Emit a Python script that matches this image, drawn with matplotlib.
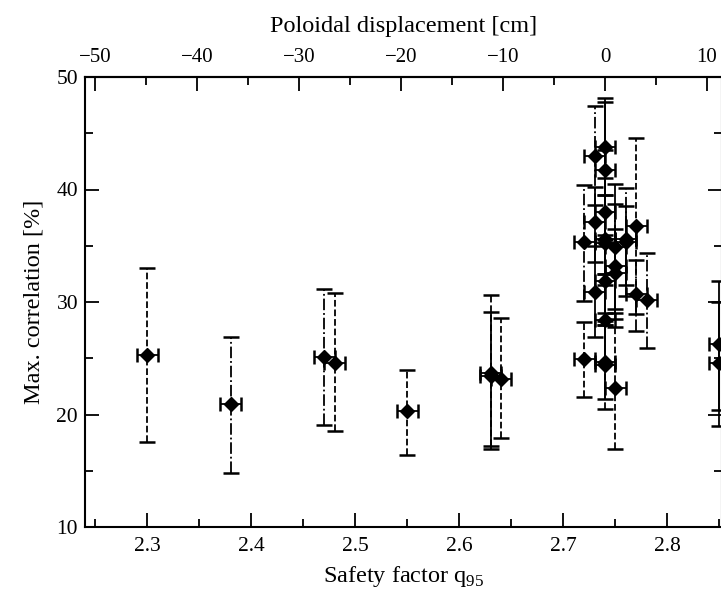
import matplotlib
matplotlib.use("Agg")
import matplotlib.pyplot as plt
from matplotlib.ticker import MultipleLocator, FixedLocator

plt.rcParams['font.family'] = ['Liberation Serif', 'DejaVu Serif']

# safety factor q95 of each measurement
q95 = [2.30, 2.38, 2.47, 2.48, 2.55, 2.63, 2.63, 2.64,
       2.72, 2.72, 2.73, 2.73, 2.73,
       2.74, 2.74, 2.74, 2.74, 2.74, 2.74, 2.74, 2.74, 2.74,
       2.75, 2.75, 2.75, 2.75, 2.76, 2.76, 2.77, 2.77, 2.78,
       2.85, 2.85]
# max. correlation [%]
corr = [25.3, 20.9, 25.1, 24.6, 20.3, 23.7, 23.4, 23.2,
        24.9, 35.3, 43.0, 37.1, 30.9,
        43.8, 41.7, 38.0, 35.6, 35.2, 31.9, 28.4, 24.7, 24.4,
        34.9, 33.2, 32.6, 22.4, 35.6, 35.3, 36.8, 30.7, 30.2,
        26.3, 24.6]
# lower / upper ends of the error bars
corr_lo = [17.6, 14.8, 19.1, 18.5, 16.4, 17.2, 16.9, 17.9,
           21.6, 30.1, 38.6, 33.6, 26.9,
           39.5, 35.5, 32.5, 31.5, 29.0, 28.0, 24.5, 21.4, 20.5,
           29.4, 29.0, 28.5, 16.9, 31.5, 30.5, 28.9, 27.4, 25.9,
           20.4, 19.0]
corr_hi = [33.0, 26.9, 31.2, 30.8, 24.0, 30.6, 29.1, 28.6,
           28.2, 40.4, 47.4, 40.2, 35.0,
           48.1, 47.8, 43.5, 39.5, 41.0, 36.0, 32.5, 28.3, 28.0,
           40.5, 38.7, 36.5, 27.8, 40.1, 38.5, 44.6, 33.7, 34.4,
           31.9, 30.0]
bar_style = ['--', '-.', '-.', '--', '--', '--', '-', '--',
             '--', '-.', '-.', '-', '-',
             '-', '-', '-', '--', '-', '-', '-', '-', '--',
             '-', '-.', '-', '--', '-.', '-', '--', '-.', '-.',
             '-', '-']
q_err = 0.01
top_ticks = [-50, -40, -30, -20, -10, 0, 10]


def q_to_cm(q):
    return (q - 2.74) / 0.0098


def cm_to_q(cm):
    return 2.74 + cm * 0.0098


fig = plt.figure(figsize=(7.21, 5.92), dpi=100)
ax = fig.add_axes([85 / 721, 65 / 592, 637 / 721, 450 / 592])

for q, c, lo, hi, ls in zip(q95, corr, corr_lo, corr_hi, bar_style):
    eb = ax.errorbar(q, c, yerr=[[c - lo], [hi - c]], fmt='none',
                     ecolor='black', elinewidth=1.3, capsize=6, capthick=1.8)
    eb[2][0].set_linestyle(ls)
    ax.errorbar(q, c, xerr=q_err, fmt='D', color='black', ms=7,
                elinewidth=1.3, capsize=5, capthick=1.8)

ax.set_xlim(2.24, 2.8525)
ax.set_ylim(10, 50)
ax.xaxis.set_major_locator(MultipleLocator(0.1))
ax.xaxis.set_minor_locator(MultipleLocator(0.05))
ax.yaxis.set_major_locator(MultipleLocator(10))
ax.yaxis.set_minor_locator(MultipleLocator(5))
ax.tick_params(which='both', direction='in', right=True, labelsize=15.5, width=1.3)
ax.tick_params(which='major', length=10)
ax.tick_params(which='minor', length=6)
ax.tick_params(axis='x', pad=7)
ax.tick_params(axis='y', pad=5)
for s in ax.spines.values():
    s.set_linewidth(1.5)

sec = ax.secondary_xaxis('top', functions=(q_to_cm, cm_to_q))
sec.xaxis.set_major_locator(FixedLocator(top_ticks))
sec.xaxis.set_minor_locator(FixedLocator([t + 5 for t in top_ticks[:-1]]))
sec.tick_params(which='both', direction='in', labelsize=15, width=1.3, pad=7)
sec.tick_params(which='major', length=10)
sec.tick_params(which='minor', length=6)
sec.spines['top'].set_linewidth(1.5)
sec.set_xlabel('Poloidal displacement [cm]', fontsize=17.5, labelpad=12)

ax.set_xlabel(r'Safety factor q$_\mathregular{95}$', fontsize=17.5)
ax.set_ylabel('Max. correlation [%]', fontsize=17.5)
ax.xaxis.set_label_coords(0.5, -0.082)
ax.yaxis.set_label_coords(-0.064, 0.5)

fig.savefig('out.png', dpi=100)
